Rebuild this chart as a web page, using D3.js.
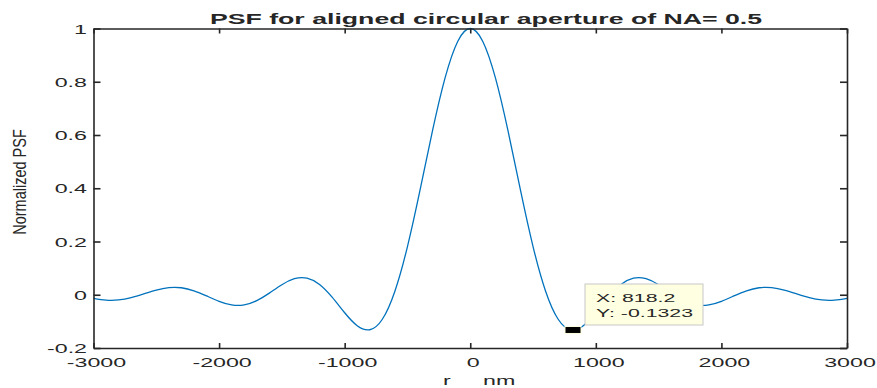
<!DOCTYPE html>
<html>
<head>
    <meta charset="UTF-8">
    <title>PSF</title>
    <style>
        body { margin: 0; background: #fff; }
        text { font-family: "Liberation Sans", Arial, Helvetica, sans-serif; fill: #262626; }
    </style>
</head>
<body>
    <script src="https://d3js.org/d3.v7.min.js" charset="utf-8"></script>
    <script type="text/javascript">
        // data (r in nm, normalized PSF)
        var rValues = [-3000,-2900,-2800,-2700,-2600,-2500,-2400,-2300,-2200,-2100,
                       -2000,-1900,-1800,-1700,-1600,-1500,-1400,-1300,-1200,-1100,
                       -1000,-900,-800,-700,-600,-500,-400,-300,-200,-100,
                       0,
                       100,200,300,400,500,600,700,800,900,1000,
                       1100,1200,1300,1400,1500,1600,1700,1800,1900,2000,
                       2100,2200,2300,2400,2500,2600,2700,2800,2900,3000];
        var psfValues = [-0.0135,-0.0202,-0.0195,-0.0108,0.0032,0.0177,0.0268,0.0263,0.0149,-0.0043,
                         -0.0246,-0.0381,-0.0381,-0.0222,0.0060,0.0375,0.0601,0.0624,0.0385,-0.0091,
                         -0.0676,-0.1164,-0.1315,-0.0920,0.0133,0.1811,0.3929,0.6170,0.8152,0.9515,
                         1.0,
                         0.9515,0.8152,0.6170,0.3929,0.1811,0.0133,-0.0920,-0.1315,-0.1164,-0.0676,
                         -0.0091,0.0385,0.0624,0.0601,0.0375,0.0060,-0.0222,-0.0381,-0.0381,-0.0246,
                         -0.0043,0.0149,0.0263,0.0268,0.0177,0.0032,-0.0108,-0.0195,-0.0202,-0.0135];
        var xTicks = [-3000,-2000,-1000,0,1000,2000,3000];
        var xTickLabels = ["-3000","-2000","-1000","0","1000","2000","3000"];
        var yTicks = [-0.2,0,0.2,0.4,0.6,0.8,1];
        var yTickLabels = ["-0.2","0","0.2","0.4","0.6","0.8","1"];
        var tipX = 818.2;
        var tipY = -0.1323;

        var width = 877;
        var height = 388;
        var sx = 1.72; // text in the picture is stretched sideways
        var svg = d3.select("body").append("svg")
            .attr("width", width)
            .attr("height", height);

        var x = d3.scaleLinear().domain([-3000, 3000]).range([93.5, 847]);
        var y = d3.scaleLinear().domain([-0.2, 1]).range([348, 28.5]);

        // curve
        var pts = rValues.map(function(r, i){ return [r, psfValues[i]]; });
        var line = d3.line()
            .x(function(d){ return x(d[0]); })
            .y(function(d){ return y(d[1]); })
            .curve(d3.curveNatural);
        svg.append("path")
            .datum(pts)
            .attr("d", line)
            .attr("fill", "none")
            .attr("stroke", "#0072BD")
            .attr("stroke-width", 1.3);

        // box with inward ticks
        function styleAxis(g){
            g.selectAll("path, line").attr("stroke", "#262626").attr("stroke-width", 1.6);
            g.selectAll("text").remove();
        }
        svg.append("g").attr("transform", "translate(0,348)")
            .call(d3.axisBottom(x).tickValues(xTicks).tickSize(-5).tickSizeOuter(0)).call(styleAxis);
        svg.append("g").attr("transform", "translate(0,28.5)")
            .call(d3.axisTop(x).tickValues(xTicks).tickSize(-5).tickSizeOuter(0)).call(styleAxis);
        svg.append("g").attr("transform", "translate(93.5,0)")
            .call(d3.axisLeft(y).tickValues(yTicks).tickSize(-7).tickSizeOuter(0)).call(styleAxis);
        svg.append("g").attr("transform", "translate(847,0)")
            .call(d3.axisRight(y).tickValues(yTicks).tickSize(-7).tickSizeOuter(0)).call(styleAxis);

        // tick labels
        xTicks.forEach(function(t, i){
            svg.append("text")
                .attr("transform", "translate(" + (x(t) + 3) + ",366.5) scale(" + sx + ",1)")
                .attr("text-anchor", "middle")
                .attr("font-size", 13.5)
                .text(xTickLabels[i]);
        });
        yTicks.forEach(function(t, i){
            svg.append("text")
                .attr("transform", "translate(87," + (y(t) + 5) + ") scale(" + sx + ",1)")
                .attr("text-anchor", "end")
                .attr("font-size", 13.5)
                .text(yTickLabels[i]);
        });

        // title and axis labels
        svg.append("text")
            .attr("transform", "translate(486,24) scale(1.84,1)")
            .attr("text-anchor", "middle")
            .attr("font-size", 14.5)
            .attr("font-weight", "bold")
            .attr("fill", "#000")
            .text("PSF for aligned circular aperture of NA= 0.5");
        svg.append("text")
            .attr("transform", "translate(443,384.5) scale(" + sx + ",1)")
            .attr("font-size", 13.5)
            .attr("xml:space", "preserve")
            .style("white-space", "pre")
            .text("r     nm");
        svg.append("text")
            .attr("transform", "translate(26,182) scale(1.25,1) rotate(-90)")
            .attr("text-anchor", "middle")
            .attr("font-size", 14.5)
            .text("Normalized PSF");

        // data tip
        svg.append("rect")
            .attr("x", x(tipX) - 8).attr("y", y(tipY) - 3.5)
            .attr("width", 16).attr("height", 7)
            .attr("fill", "#000")
            .attr("stroke", "#ffffe1")
            .attr("stroke-width", 1);
        var tip = svg.append("g");
        tip.append("rect")
            .attr("x", 585).attr("y", 284)
            .attr("width", 118).attr("height", 41)
            .attr("fill", "#ffffe1")
            .attr("stroke", "#c8c8c8")
            .attr("stroke-width", 1);
        tip.append("text")
            .attr("transform", "translate(596,302) scale(1.85,1)")
            .attr("font-size", 11.5)
            .attr("fill", "#000")
            .text("X: " + tipX);
        tip.append("text")
            .attr("transform", "translate(596,316.5) scale(1.85,1)")
            .attr("font-size", 11.5)
            .attr("fill", "#000")
            .text("Y: " + tipY);
    </script>
</body>
</html>
